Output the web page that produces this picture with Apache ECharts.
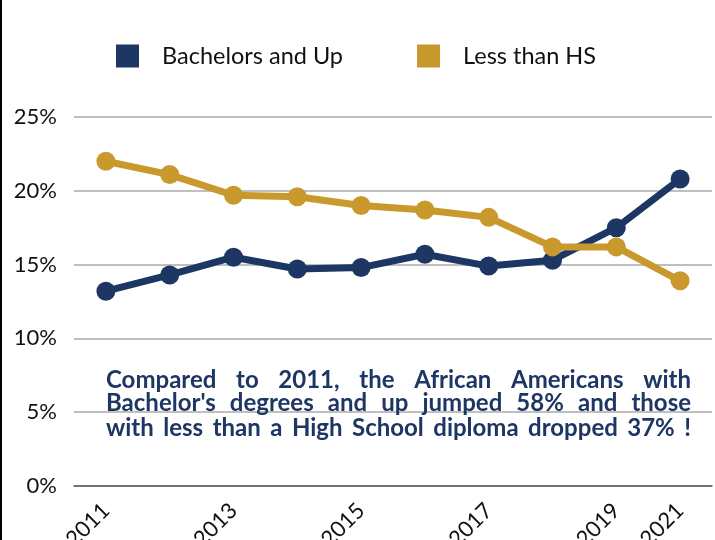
<!DOCTYPE html>
<html>
<head>
<meta charset="utf-8">
<script src="https://cdn.jsdelivr.net/npm/echarts@6/dist/echarts.min.js"></script>
<style>
  html, body { margin: 0; padding: 0; background: #fff; }
  #chart { width: 715px; height: 540px; }
</style>
</head>
<body>
<div id="chart"></div>
<script>
// data (2020 is missing in the source)
const years = ['2011', '2012', '2013', '2014', '2015', '2016', '2017', '2018', '2019', '2021']
const bachelorsAndUp = [13.2, 14.3, 15.5, 14.7, 14.8, 15.7, 14.9, 15.3, 17.5, 20.8]
const lessThanHS = [22.0, 21.1, 19.7, 19.6, 19.0, 18.7, 18.2, 16.2, 16.2, 13.9]
const yTicks = [0, 5, 10, 15, 20, 25]
const noteLines = [
  'Compared to 2011, the African Americans with',
  "Bachelor's degrees and up jumped 58% and those",
  'with less than a High School diploma dropped 37% !'
]

const NAVY = '#1d3663'
const GOLD = '#c9992e'
const noteFont = 'bold 24px Lato'

// justify each line of the note between two x positions
const ctx = document.createElement('canvas').getContext('2d')
ctx.font = noteFont
const buildNote = (left, right, middles) => {
  const out = []
  noteLines.forEach((line, i) => {
    const words = line.split(' ')
    const widths = words.map(w => ctx.measureText(w).width)
    const total = widths.reduce((a, b) => a + b, 0)
    const gap = (right - left - total) / (words.length - 1)
    let x = left
    words.forEach((w, j) => {
      out.push({
        type: 'text',
        x: x,
        y: middles[i],
        z: 100,
        style: { text: w, font: noteFont, fill: NAVY, verticalAlign: 'middle', align: 'left' }
      })
      x += widths[j] + gap
    })
  })
  return out
}

const chart = echarts.init(document.getElementById('chart'))

const option = {
  animation: false,
  legend: {
    data: ['Bachelors and Up', 'Less than HS'],
    left: 116,
    top: 44,
    padding: 0,
    icon: 'rect',
    itemWidth: 23,
    itemHeight: 23,
    itemGap: 74,
    textStyle: {
      fontFamily: 'Lato',
      fontSize: 23.5,
      color: '#111',
      padding: [0, 0, 0, 18]
    }
  },
  grid: {
    left: 74,
    right: 3,
    top: 117,
    bottom: 54,
    outerBoundsMode: 'none',
    containLabel: false
  },
  xAxis: {
    type: 'category',
    data: years,
    axisTick: { show: false },
    axisLine: { lineStyle: { color: '#595959', width: 1.5 } },
    axisLabel: {
      rotate: 45,
      margin: 21,
      fontFamily: 'Lato',
      fontSize: 22,
      color: '#111',
      interval: (idx, val) => Number(val) % 2 === 1
    }
  },
  yAxis: {
    type: 'value',
    min: yTicks[0],
    max: yTicks[yTicks.length - 1],
    interval: 5,
    axisLine: { show: false },
    axisTick: { show: false },
    axisLabel: {
      margin: 17,
      fontFamily: 'Lato',
      fontSize: 22,
      color: '#111',
      formatter: v => v + '%'
    },
    splitLine: {
      lineStyle: { color: '#bfbfbf', width: 2 }
    }
  },
  series: [
    {
      name: 'Bachelors and Up',
      type: 'line',
      data: bachelorsAndUp,
      symbol: 'circle',
      symbolSize: 19,
      lineStyle: { color: NAVY, width: 7 },
      itemStyle: { color: NAVY }
    },
    {
      name: 'Less than HS',
      type: 'line',
      data: lessThanHS,
      symbol: 'circle',
      symbolSize: 19,
      lineStyle: { color: GOLD, width: 7 },
      itemStyle: { color: GOLD }
    }
  ],
  graphic: [
    // left frame edge of the original picture
    { type: 'rect', shape: { x: 0, y: 0, width: 2, height: 540 }, style: { fill: '#000' } },
    ...buildNote(106, 691, [380, 403, 428])
  ]
}

chart.setOption(option)
</script>
</body>
</html>
